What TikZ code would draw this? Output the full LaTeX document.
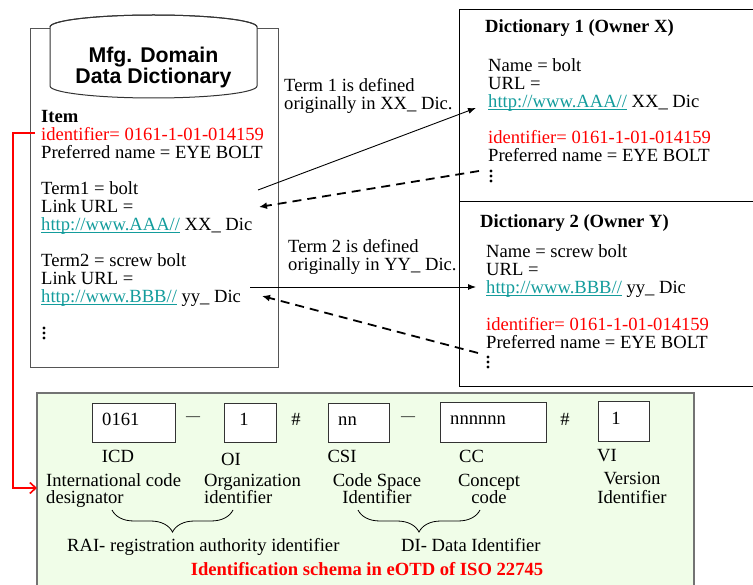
\documentclass[tikz,border=0pt]{standalone}
\usepackage{fontspec}
\setmainfont{Liberation Serif}
\setsansfont{Liberation Sans}
\usetikzlibrary{arrows.meta,decorations.pathreplacing}
\definecolor{idred}{HTML}{FF0000}
\definecolor{urlteal}{HTML}{139C9C}
\definecolor{greenbg}{HTML}{F0FDE8}
\definecolor{boxgray}{HTML}{555555}
\newcommand{\myurl}[1]{\textcolor{urlteal}{\setbox0\hbox{#1}\rlap{\rule[-2.2pt]{\wd0}{0.9pt}}\box0}}
\begin{document}
\begin{tikzpicture}[x=1pt,y=-1pt,
  txt/.style={anchor=base west, inner sep=0pt, font=\fontsize{18.6}{18.6}\selectfont},
  ctxt/.style={anchor=base, inner sep=0pt, font=\fontsize{18.6}{18.6}\selectfont},
  redtxt/.style={txt, text=idred},
  boldtxt/.style={txt, font=\fontsize{18.6}{18.6}\selectfont\bfseries},
  cyltxt/.style={anchor=base, inner sep=0pt, font=\fontsize{21.3}{21.3}\selectfont\sffamily\bfseries},
  dotstyle/.style={fill=black},
  cell/.style={draw=black!80, fill=white, line width=1.1pt, inner sep=0pt, anchor=north west},
  frame/.style={draw=black, line width=0.8pt},
  solidarrow/.style={draw=black, line width=0.9pt, -{Latex[length=8pt,width=6pt]}},
  dasharrow/.style={draw=black, line width=1.8pt, dash pattern=on 9pt off 6pt, -{Latex[length=8pt,width=7pt]}},
  redline/.style={draw=idred, line width=1.6pt, -{Straight Barb[length=6pt,width=11pt]}},
  bracestyle/.style={draw=black, line width=0.8pt, decorate, decoration={brace, amplitude=22pt, mirror}}
]
\useasboundingbox (0,0) rectangle (753,585);

% ---------- left box with cylinder ----------
\draw[draw=boxgray, line width=1pt] (30,29) rectangle (278,368);
\draw[draw=black!80, line width=1pt, fill=white]
  (50,27) -- (50,86) arc[start angle=180, end angle=360, x radius=103.5, y radius=-12]
  -- (257,27) arc[start angle=0, end angle=180, x radius=103.5, y radius=-12] -- cycle;
\draw[draw=black!80, line width=1pt] (50,27) arc[start angle=180, end angle=360, x radius=103.5, y radius=12];
\node[cyltxt] (cyl1) at (153.5,63) {Mfg. Domain};
\node[cyltxt] (cyl2) at (153.5,84) {Data Dictionary};

\node[boldtxt] (item) at (41,123) {Item};
\node[redtxt] (lid) at (41,141) {identifier= 0161-1-01-014159};
\node[txt] (lpref) at (41,159) {Preferred name = EYE BOLT};
\node[txt] (lt1) at (41,195) {Term1 = bolt};
\node[txt] (llink1) at (41,213) {Link URL =};
\node[txt] (lurl1) at (41,231) {\myurl{http://www.AAA//} XX\_ Dic};
\node[txt] (lt2) at (41,267) {Term2 = screw bolt};
\node[txt] (llink2) at (41,285) {Link URL =};
\node[txt] (lurl2) at (41,303) {\myurl{http://www.BBB//} yy\_ Dic};
\foreach \yy in {328,333,338} \fill[dotstyle] (44,\yy) circle (1.7);

% ---------- dictionary 1 ----------
\draw[frame] (760,9) -- (459,9) -- (459,201) -- (760,201);
\node[boldtxt] (d1title) at (485,33) {Dictionary 1 (Owner X)};
\node[txt] (d1name) at (488,72) {Name = bolt};
\node[txt] (d1urll) at (488,90) {URL =};
\node[txt] (d1url) at (488,108) {\myurl{http://www.AAA//} XX\_ Dic};
\node[redtxt] (d1id) at (488,144) {identifier= 0161-1-01-014159};
\node[txt] (d1pref) at (488,162) {Preferred name = EYE BOLT};
\foreach \yy in {171,176,181} \fill[dotstyle] (491,\yy) circle (1.7);

% ---------- dictionary 2 ----------
\draw[frame] (459,201) -- (459,386) -- (760,386);
\node[boldtxt] (d2title) at (480,228) {Dictionary 2 (Owner Y)};
\node[txt] (d2name) at (486,258) {Name = screw bolt};
\node[txt] (d2urll) at (486,276) {URL =};
\node[txt] (d2url) at (486,294) {\myurl{http://www.BBB//} yy\_ Dic};
\node[redtxt] (d2id) at (486,331) {identifier= 0161-1-01-014159};
\node[txt] (d2pref) at (486,349) {Preferred name = EYE BOLT};
\foreach \yy in {357,362,367} \fill[dotstyle] (488,\yy) circle (1.7);

% ---------- middle labels ----------
\node[txt] (m1a) at (284,92) {Term 1 is defined};
\node[txt] (m1b) at (284,110) {originally in XX\_ Dic.};
\node[txt] (m2a) at (288,253) {Term 2 is defined};
\node[txt] (m2b) at (288,271) {originally in YY\_ Dic.};

% ---------- connectors ----------
\coordinate (a1s) at (258,190);
\coordinate (a1e) at (476,108);
\coordinate (a2s) at (250,287);
\coordinate (a2e) at (476,287);
\coordinate (b1s) at (479,171);
\coordinate (b1e) at (259,207);
\coordinate (b2s) at (478,353);
\coordinate (b2e) at (262,296);
\draw[solidarrow] (a1s) -- (a1e);
\draw[solidarrow] (a2s) -- (a2e);
\draw[dasharrow] (b1s) -- (b1e);
\draw[dasharrow] (b2s) -- (b2e);

% ---------- green panel ----------
\draw[draw=black!55, line width=1.2pt, fill=greenbg] (37,393) rectangle (694,600);
\coordinate (rs) at (35,133);
\coordinate (re) at (37,488);
\draw[redline] (rs) -- (13,133) -- (13,488) -- (re);

\node[cell, minimum width=83pt, minimum height=39pt] (c1) at (92,403) {};
\node[cell, minimum width=52pt, minimum height=39pt] (c2) at (224,403) {};
\node[cell, minimum width=61pt, minimum height=39pt] (c3) at (328,403) {};
\node[cell, minimum width=106pt, minimum height=40pt] (c4) at (440,402) {};
\node[cell, minimum width=51pt, minimum height=40pt] (c5) at (598,401) {};
\node[txt] (c1t) at (102,426) {0161};
\node[ctxt] (c2t) at (244,426) {1};
\node[txt] (c3t) at (338,426) {nn};
\node[txt] (c4t) at (450,425) {nnnnnn};
\node[ctxt] (c5t) at (616,425) {1};
\node[inner sep=0pt, font=\fontsize{14}{14}\selectfont] (dash1) at (193,419) {—};
\node[inner sep=0pt, font=\fontsize{14}{14}\selectfont] (dash2) at (408,419) {—};
\node[ctxt] (hash1) at (296,426) {\#};
\node[ctxt] (hash2) at (565,426) {\#};

\node[ctxt] (icd) at (118,463) {ICD};
\node[ctxt] (oi) at (231,465) {OI};
\node[ctxt] (csi) at (342,463) {CSI};
\node[ctxt] (cc) at (471.5,463) {CC};
\node[ctxt] (vi) at (607,461) {VI};

\node[txt] (icd1) at (46,486) {International code};
\node[txt] (icd2) at (46,503) {designator};
\node[txt] (oi1) at (204,486) {Organization};
\node[txt] (oi2) at (204,503) {identifier};
\node[ctxt] (csi1) at (377,486) {Code Space};
\node[ctxt] (csi2) at (377,503) {Identifier};
\node[ctxt] (cc1) at (489,486) {Concept};
\node[ctxt] (cc2) at (489,503) {code};
\node[ctxt] (vi1) at (632,484) {Version};
\node[ctxt] (vi2) at (632,503) {Identifier};

\coordinate (br1a) at (112,510);
\coordinate (br1b) at (233,510);
\coordinate (br2a) at (358,510);
\coordinate (br2b) at (480,510);
\draw[bracestyle] (br1a) -- (br1b);
\draw[bracestyle] (br2a) -- (br2b);

\node[txt] (rai) at (67,551) {RAI- registration authority identifier};
\node[txt] (di) at (401,551) {DI- Data Identifier};
\node[ctxt, text=idred, font=\fontsize{18.6}{18.6}\selectfont\bfseries] (schema) at (367,575) {Identification schema in eOTD of ISO 22745};
\end{tikzpicture}
\end{document}
